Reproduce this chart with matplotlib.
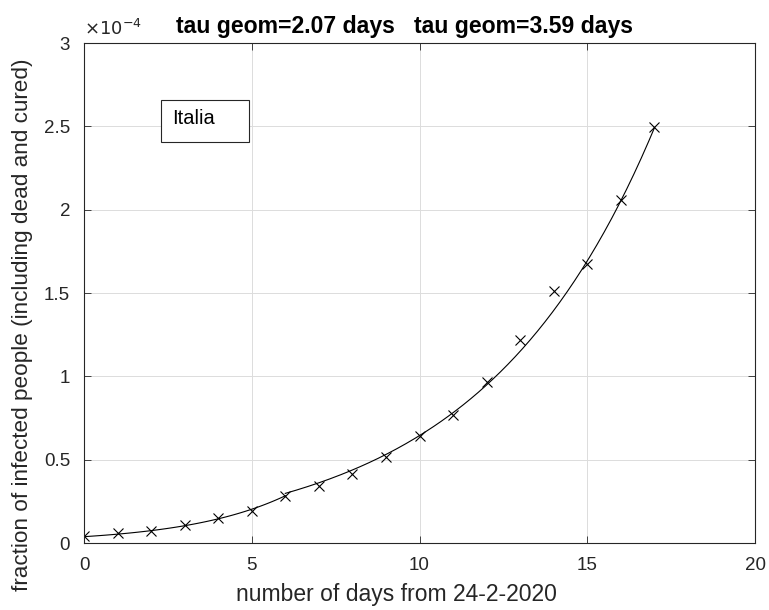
import numpy as np
from matplotlib import pyplot as plt
from matplotlib.patches import Rectangle

plt.rcParams['font.family'] = ['Liberation Sans', 'DejaVu Sans']

# data (fraction in units of 1e-4)
days = [0, 1, 2, 3, 4, 5, 6, 7, 8, 9, 10, 11, 12, 13, 14, 15, 16, 17]
frac = [0.042, 0.058, 0.072, 0.11, 0.152, 0.192, 0.284, 0.34, 0.416, 0.514,
        0.644, 0.77, 0.968, 1.22, 1.514, 1.676, 2.056, 2.494]

# two exponential fits (doubling time tau), days 0-6 and 6-17
tau1 = 2.07
tau2 = 3.59
amp1 = 0.038
amp2 = 2.49 / 2 ** (17 / tau2)
seg1 = (0, 6)
seg2 = (6, 17)

scale = 1e-4

fig = plt.figure(figsize=(7.69, 6.10), dpi=100)
ax = fig.add_axes([84 / 769, 67 / 610, 671 / 769, 500 / 610])

t1 = np.linspace(seg1[0], seg1[1], 100)
t2 = np.linspace(seg2[0], seg2[1], 200)
ax.plot(t1, amp1 * 2 ** (t1 / tau1) * scale, color='k', lw=0.8)
ax.plot(t2, amp2 * 2 ** (t2 / tau2) * scale, color='k', lw=0.8)
ax.plot(days, np.array(frac) * scale, 'x', color='k', ms=7.5, mew=0.8)

ax.set_xlim(0, 20)
ax.set_ylim(0, 3e-4)
ax.set_xticks([0, 5, 10, 15, 20])
ax.set_yticks(np.arange(0, 3.01, 0.5) * scale)
ax.set_yticklabels(['0', '0.5', '1', '1.5', '2', '2.5', '3'])
ax.tick_params(direction='in', length=5, width=0.6, top=True, right=True,
               labelsize=13.5, colors='#262626')
ax.tick_params(axis='x', pad=10)
ax.tick_params(axis='y', pad=10)
for s in ax.spines.values():
    s.set_color('#262626')
    s.set_linewidth(0.8)
ax.grid(True, color='#dcdcdc', lw=0.7)
ax.set_axisbelow(True)

ax.set_xlabel('number of days from 24-2-2020', fontsize=16.5, color='#262626')
ax.xaxis.set_label_coords(0.466, -0.079)
ax.set_ylabel('fraction of infected people (including dead and cured)', fontsize=16.2,
              color='#262626')
ax.yaxis.set_label_coords(-0.076, 0.436)
ax.text(0.0, 1.016, r'$\times10^{-4}$', transform=ax.transAxes, fontsize=13,
        color='#262626', va='baseline', ha='left', family='DejaVu Sans')
ax.set_title('tau geom=%.2f days   tau geom=%.2f days' % (tau1, tau2),
             fontsize=16.6, fontweight='bold', pad=7, x=0.478)

# legend box
ax.add_patch(Rectangle((0.115, 0.803), 0.131, 0.084, transform=ax.transAxes,
                       facecolor='white', edgecolor='#262626', lw=0.8, zorder=5))
ax.text(0.131, 0.849, 'Italia', transform=ax.transAxes, fontsize=14.5,
        va='center', ha='left', zorder=6)

fig.savefig('out.png', dpi=100)
